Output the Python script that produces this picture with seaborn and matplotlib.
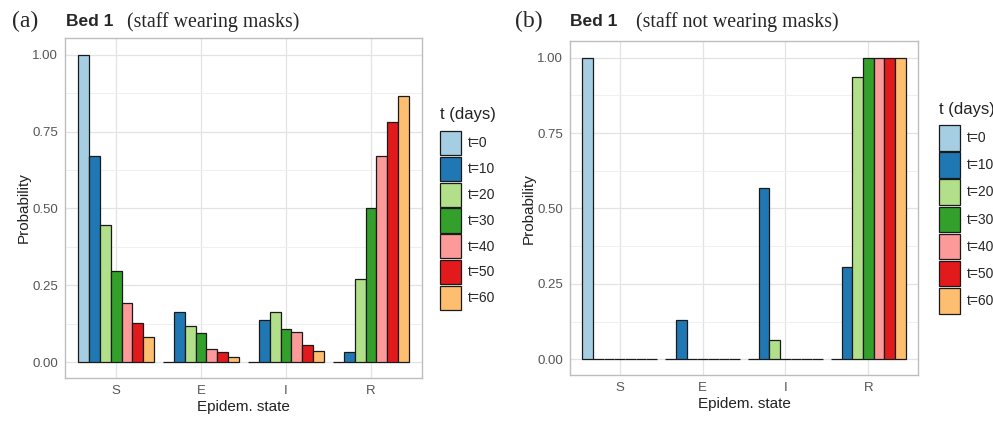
import numpy as np
import pandas as pd
import matplotlib
matplotlib.use("Agg")
import matplotlib.pyplot as plt
import seaborn as sns
from matplotlib.patches import Patch
from matplotlib.ticker import MultipleLocator

# categories
states = ["S", "E", "I", "R"]
times = ["t=0", "t=10", "t=20", "t=30", "t=40", "t=50", "t=60"]
colors = ["#A6CEE3", "#1F78B4", "#B2DF8A", "#33A02C", "#FB9A99", "#E31A1C", "#FDBF6F"]

# (a) staff wearing masks: probability of each state over time
masks_S = [1.00, 0.669, 0.447, 0.295, 0.192, 0.127, 0.080]
masks_E = [0.00, 0.163, 0.118, 0.093, 0.041, 0.033, 0.018]
masks_I = [0.00, 0.136, 0.162, 0.107, 0.097, 0.055, 0.037]
masks_R = [0.00, 0.034, 0.269, 0.502, 0.669, 0.782, 0.864]

# (b) staff not wearing masks
nomask_S = [1.00, 0.0, 0.0, 0.0, 0.0, 0.0, 0.0]
nomask_E = [0.00, 0.129, 0.0, 0.0, 0.0, 0.0, 0.0]
nomask_I = [0.00, 0.568, 0.065, 0.0, 0.0, 0.0, 0.0]
nomask_R = [0.00, 0.307, 0.936, 1.0, 1.0, 1.0, 1.0]


def long_df(s, e, i, r):
    rows = []
    for st, vals in zip(states, [s, e, i, r]):
        for t, v in zip(times, vals):
            rows.append({"state": st, "t": t, "prob": v})
    return pd.DataFrame(rows)


df_a = long_df(masks_S, masks_E, masks_I, masks_R)
df_b = long_df(nomask_S, nomask_E, nomask_I, nomask_R)

sns.set_style("white")
plt.rcParams['font.family'] = ['Liberation Sans', 'DejaVu Sans']

fig = plt.figure(figsize=(9.93, 4.21), dpi=100)
ax_a = fig.add_axes([0.0655, 0.102, 0.3595, 0.8076])
ax_b = fig.add_axes([0.574, 0.109, 0.3505, 0.793])

for ax, df in [(ax_a, df_a), (ax_b, df_b)]:
    sns.barplot(data=df, x="state", y="prob", hue="t", order=states, hue_order=times,
                palette=colors, saturation=1, edgecolor="#1a1a1a", linewidth=0.9,
                width=0.9, errorbar=None, legend=False, ax=ax, zorder=3)
    ax.set_xlim(-0.6, 3.6)
    ax.set_ylim(-0.052, 1.054)
    ax.set_yticks([0, 0.25, 0.5, 0.75, 1.0])
    ax.set_yticklabels(["0.00", "0.25", "0.50", "0.75", "1.00"])
    ax.yaxis.set_minor_locator(MultipleLocator(0.125))
    ax.grid(which="major", axis="both", color="#E3E3E3", lw=0.9, zorder=0)
    ax.grid(which="minor", axis="y", color="#EEEEEE", lw=0.6, zorder=0)
    ax.set_axisbelow(True)
    ax.tick_params(which="major", length=3, color="#555555", labelcolor="#555555",
                   labelsize=9.5, width=0.6, pad=2)
    ax.tick_params(which="minor", length=0)
    for sp in ax.spines.values():
        sp.set_color("#BDBDBD")
        sp.set_linewidth(1.0)
    ax.set_xlabel("Epidem. state", fontsize=11, color="#222222", labelpad=2)
    ax.set_ylabel("Probability", fontsize=11, color="#222222", labelpad=1)

# legends (title drawn separately to get ggplot-like spacing)
handles = [Patch(facecolor=c, edgecolor="#1a1a1a", linewidth=0.9) for c in colors]
for x0, ty, ky, hh in [(0.4435, 0.727, 0.689, 2.3), (0.9455, 0.739, 0.703, 2.45)]:
    fig.text(x0, ty, "t (days)", fontsize=12, color="#222222", va="center", ha="left")
    fig.legend(handles, times, loc="upper left", bbox_to_anchor=(x0, ky),
               frameon=False, fontsize=10, handlelength=1.5, handleheight=hh,
               labelspacing=0.12, handletextpad=0.5, borderaxespad=0, borderpad=0)

# panel headings
fig.text(0.012, 0.948, "(a)", fontsize=17, family=["Liberation Serif"], va="center")
fig.text(0.066, 0.948, "Bed 1", fontsize=12.5, fontweight="bold", va="center")
fig.text(0.128, 0.948, "(staff wearing masks)", fontsize=14.3, family=["Liberation Serif"], va="center")
fig.text(0.519, 0.948, "(b)", fontsize=17, family=["Liberation Serif"], va="center")
fig.text(0.574, 0.948, "Bed 1", fontsize=12.5, fontweight="bold", va="center")
fig.text(0.640, 0.948, "(staff not wearing masks)", fontsize=14.3, family=["Liberation Serif"], va="center")

fig.savefig("out.png", dpi=100)
